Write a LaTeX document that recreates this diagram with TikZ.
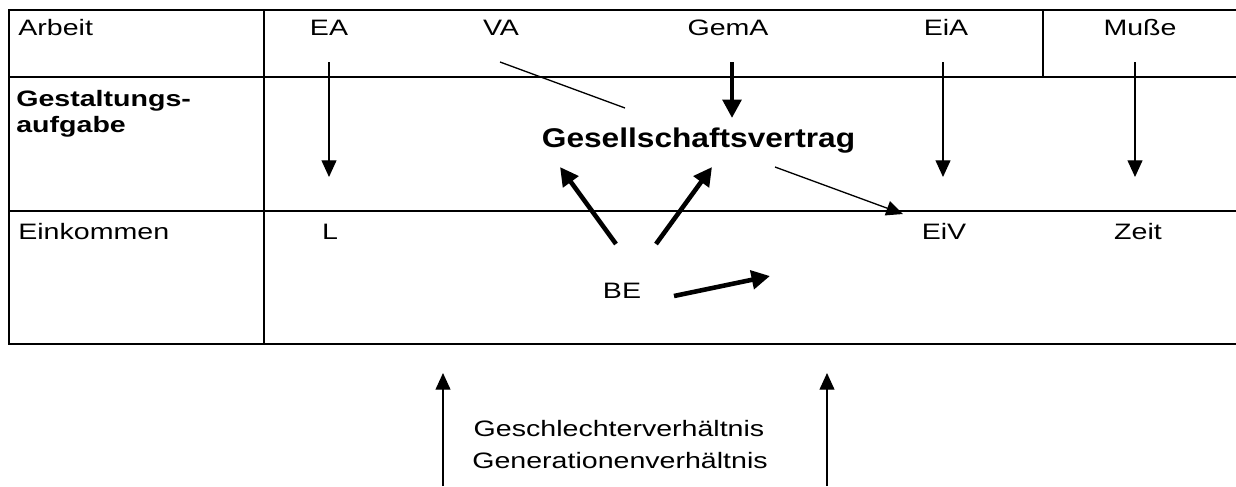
\documentclass[tikz,border=0pt]{standalone}
\usepackage{fontspec}
\setmainfont[FakeStretch=1.28]{Liberation Sans}
\newfontfamily\vertragfont[FakeStretch=1.17]{Liberation Sans}
\usetikzlibrary{arrows.meta}

\tikzset{
  rule/.style={line width=1.4pt},
  cell/.style={inner sep=0pt},
  thinarrow/.style={line width=0.75pt,-{Triangle[length=9.5pt,width=8.5pt]}},
  thickarrow/.style={line width=2.6pt,-{Triangle[length=10.5pt,width=10.5pt]}}
}

\begin{document}
\begin{tikzpicture}[font=\fontsize{12.7}{14.8}\selectfont]
        \useasboundingbox (0,0) rectangle (24.72,-9.72);

        % table
        \draw[rule] (24.72,-0.2) -- (0.18,-0.2) -- (0.18,-6.88) -- (24.72,-6.88);
        \draw[rule] (0.18,-1.54) -- (24.72,-1.54);
        \draw[rule] (0.18,-4.22) -- (24.72,-4.22);
        \draw[rule] (5.28,-0.2) -- (5.28,-6.88);
        \draw[rule] (20.86,-0.2) -- (20.86,-1.54);

        % row heads
        \node[cell,anchor=base west] (arbeit) at (0.36,-0.71) {Arbeit};
        \node[cell,anchor=north west,align=left,font=\fontsize{12.7}{14.8}\selectfont\bfseries]
            (gestaltung) at (0.32,-1.79) {Gestaltungs-\\aufgabe};
        \node[cell,anchor=base west] (einkommen) at (0.36,-4.78) {Einkommen};

        % first row
        \node[cell,anchor=base] (EA) at (6.58,-0.71) {EA};
        \node[cell,anchor=base] (VA) at (10.02,-0.71) {VA};
        \node[cell,anchor=base] (GemA) at (14.56,-0.71) {GemA};
        \node[cell,anchor=base] (EiA) at (18.92,-0.71) {EiA};
        \node[cell,anchor=base] (Musse) at (22.8,-0.71) {Muße};

        % middle
        \node[cell,anchor=base,font=\vertragfont\fontsize{15.4}{17}\selectfont\bfseries]
            (vertrag) at (13.97,-2.95) {Gesellschaftsvertrag};

        % last row
        \node[cell,anchor=base] (L) at (6.6,-4.78) {L};
        \node[cell,anchor=base] (EiV) at (18.88,-4.78) {EiV};
        \node[cell,anchor=base] (Zeit) at (22.76,-4.78) {Zeit};
        \node[cell,anchor=base] (BE) at (12.44,-5.96) {BE};

        % below the table
        \node[cell,anchor=base] (geschlecht) at (12.38,-8.72) {Geschlechterverhältnis};
        \node[cell,anchor=base] (generation) at (12.4,-9.36) {Generationenverhältnis};

        % free ends
        \coordinate (EA-s) at (6.58,-1.24);   \coordinate (EA-t) at (6.58,-3.54);
        \coordinate (EiA-s) at (18.86,-1.24); \coordinate (EiA-t) at (18.86,-3.54);
        \coordinate (Musse-s) at (22.7,-1.24); \coordinate (Musse-t) at (22.7,-3.54);
        \coordinate (GemA-s) at (14.64,-1.24); \coordinate (GemA-t) at (14.64,-2.36);
        \coordinate (VA-s) at (10.0,-1.24);   \coordinate (VA-t) at (12.5,-2.16);
        \coordinate (vertrag-s) at (15.5,-3.34); \coordinate (EiV-t) at (18.06,-4.28);
        \coordinate (BE-l) at (12.32,-4.88);  \coordinate (BE-lt) at (11.2,-3.34);
        \coordinate (BE-r) at (13.12,-4.88);  \coordinate (BE-rt) at (14.24,-3.34);
        \coordinate (BE-e) at (13.48,-5.92);  \coordinate (BE-et) at (15.4,-5.52);
        \coordinate (up-l) at (8.86,-9.72);   \coordinate (up-lt) at (8.86,-7.46);
        \coordinate (up-r) at (16.54,-9.72);  \coordinate (up-rt) at (16.54,-7.46);

        % arrows
        \draw[thinarrow] (EA-s) -- (EA-t);
        \draw[thinarrow] (EiA-s) -- (EiA-t);
        \draw[thinarrow] (Musse-s) -- (Musse-t);
        \draw[line width=0.75pt] (VA-s) -- (VA-t);
        \draw[thickarrow] (GemA-s) -- (GemA-t);
        \draw[thinarrow] (vertrag-s) -- (EiV-t);
        \draw[thickarrow] (BE-l) -- (BE-lt);
        \draw[thickarrow] (BE-r) -- (BE-rt);
        \draw[thickarrow] (BE-e) -- (BE-et);
        \draw[thinarrow] (up-l) -- (up-lt);
        \draw[thinarrow] (up-r) -- (up-rt);
    \end{tikzpicture}
\end{document}
